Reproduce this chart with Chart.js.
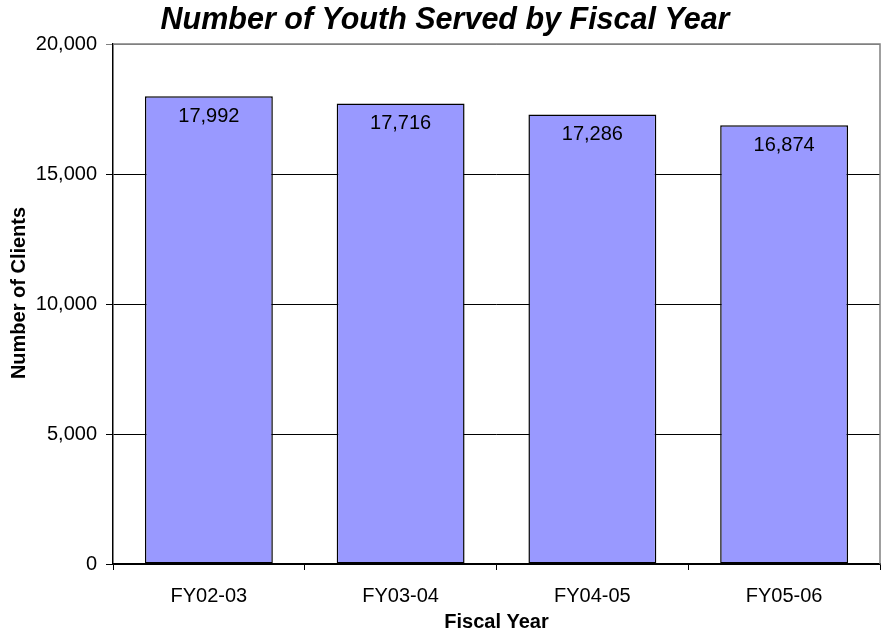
<!DOCTYPE html>
<html>
<head>
<meta charset="utf-8">
<script src="https://cdn.jsdelivr.net/npm/chart.js@4/dist/chart.umd.min.js"></script>
<style>
  html, body { margin: 0; padding: 0; background: #fff; }
  #wrap { width: 885px; height: 633px; }
</style>
</head>
<body>
<div id="wrap"><canvas id="c" width="885" height="633"></canvas></div>
<script>
// Youth served per fiscal year
const fiscalYears = ['FY02-03', 'FY03-04', 'FY04-05', 'FY05-06'];
const youthServed = [17992, 17716, 17286, 16874];
const yTicks = [0, 5000, 10000, 15000, 20000];

const FONT = '"Liberation Sans", Arial, sans-serif';

// Heading, axis titles, plot frame and value labels inside the bars
const decorations = {
  id: 'decorations',
  afterDatasetsDraw(chart) {
    const ctx = chart.ctx;
    const a = chart.chartArea;
    ctx.save();
    // grey frame on top and right of the plot
    ctx.strokeStyle = '#808080';
    ctx.lineWidth = 1.5;
    ctx.beginPath();
    ctx.moveTo(a.left, a.top);
    ctx.lineTo(a.right, a.top);
    ctx.lineTo(a.right, a.bottom);
    ctx.stroke();

    // value labels
    const meta = chart.getDatasetMeta(0);
    ctx.fillStyle = '#000';
    ctx.font = '20px ' + FONT;
    ctx.textAlign = 'center';
    ctx.textBaseline = 'middle';
    meta.data.forEach((bar, i) => {
      ctx.fillText(youthServed[i].toLocaleString('en-US'), bar.x, bar.y + 20);
    });

    // heading
    ctx.font = 'italic bold 30.5px ' + FONT;
    ctx.fillText('Number of Youth Served by Fiscal Year', 445, 21);

    // x-axis title
    ctx.font = 'bold 20px ' + FONT;
    ctx.fillText('Fiscal Year', (a.left + a.right) / 2, 622);

    // y-axis title
    ctx.translate(19, 293);
    ctx.rotate(-Math.PI / 2);
    ctx.fillText('Number of Clients', 0, 0);
    ctx.restore();
  }
};

new Chart(document.getElementById('c'), {
  type: 'bar',
  data: {
    labels: fiscalYears,
    datasets: [{
      data: youthServed,
      backgroundColor: '#9999FF',
      borderColor: '#000',
      borderWidth: 1.5,
      borderSkipped: false,
      barPercentage: 0.667,
      categoryPercentage: 1.0
    }]
  },
  options: {
    responsive: false,
    animation: false,
    devicePixelRatio: 1,
    layout: { padding: { top: 44, right: 5, left: 0, bottom: 0 } },
    plugins: {
      legend: { display: false },
      title: { display: false },
      tooltip: { enabled: false }
    },
    scales: {
      x: {
        afterFit(s) { s.height = 69; },
        grid: {
          offset: true,
          drawOnChartArea: false,
          drawTicks: true,
          tickLength: 6,
          color: '#000',
          lineWidth: 1
        },
        border: { display: true, color: '#000', width: 1.5 },
        ticks: {
          color: '#000',
          font: { family: FONT, size: 20 },
          padding: 14
        }
      },
      y: {
        min: 0,
        max: 20000,
        afterFit(s) { s.width = 113; },
        afterBuildTicks(s) { s.ticks = yTicks.map(v => ({ value: v })); },
        grid: {
          color: (c) => (c.tick && c.tick.value === 20000) ? '#808080' : '#000',
          lineWidth: 1,
          drawTicks: true,
          tickLength: 7
        },
        border: { display: true, color: '#000', width: 1.5 },
        ticks: {
          color: '#000',
          font: { family: FONT, size: 20 },
          padding: 9,
          callback: (v) => Number(v).toLocaleString('en-US')
        }
      }
    }
  },
  plugins: [decorations]
});
</script>
</body>
</html>
